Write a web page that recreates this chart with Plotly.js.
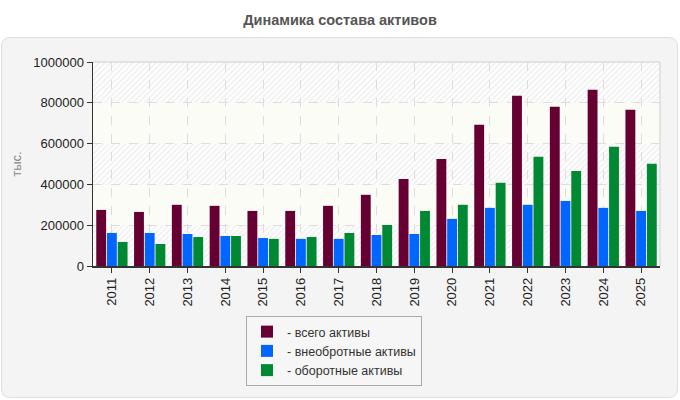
<!DOCTYPE html>
<html>
<head>
<meta charset="utf-8">
<script src="https://cdn.plot.ly/plotly-3.0.1.min.js"></script>
<style>
  html, body { margin: 0; padding: 0; background: #ffffff; }
  #chart { width: 680px; height: 400px; }
</style>
</head>
<body>
<div id="chart"></div>
<script>
// Годы и значения (тыс.)
const years = ['2011','2012','2013','2014','2015','2016','2017','2018',
               '2019','2020','2021','2022','2023','2024','2025'];
const totalAssets   = [275000, 265000, 300000, 295000, 270000, 270000, 295000, 349000,
                       427000, 525000, 692000, 835000, 781000, 864000, 766000];
const fixedAssets   = [162000, 162000, 157000, 147000, 137000, 133000, 133000, 152000,
                       157000, 231000, 285000, 300000, 319000, 285000, 270000];
const currentAssets = [118000, 108000, 142000, 147000, 133000, 142000, 162000, 201000,
                       270000, 300000, 408000, 535000, 466000, 584000, 501000];

const seriesNames  = ['- всего активы', '- внеобротные активы', '- оборотные активы'];
const seriesColors = ['#660033', '#0066ff', '#008833'];
const yTicks = [0, 200000, 400000, 600000, 800000, 1000000];

// Geometry of the figure in pixels
const W = 680, H = 400;
const M = { l: 93, r: 20, t: 62, b: 134, autoexpand: false };
const PW = W - M.l - M.r, PH = H - M.t - M.b;
const px = x => (x - M.l) / PW;          // pixel x -> paper x
const py = y => (H - M.b - y) / PH;      // pixel y -> paper y

// Rounded panel behind the plot
function roundedPanel(x0, y0, x1, y1, r) {
  const p = (x, y) => px(x).toFixed(5) + ',' + py(y).toFixed(5);
  return 'M' + p(x0 + r, y0) + ' L' + p(x1 - r, y0) +
         ' Q' + p(x1, y0) + ' ' + p(x1, y0 + r) +
         ' L' + p(x1, y1 - r) + ' Q' + p(x1, y1) + ' ' + p(x1 - r, y1) +
         ' L' + p(x0 + r, y1) + ' Q' + p(x0, y1) + ' ' + p(x0, y1 - r) +
         ' L' + p(x0, y0 + r) + ' Q' + p(x0, y0) + ' ' + p(x0 + r, y0) + ' Z';
}

// Plot-area background: alternating hatched and ivory bands between y gridlines
function bandBackground() {
  const yMax = yTicks[yTicks.length - 1];
  let rects = '';
  for (let i = 0; i < yTicks.length - 1; i++) {
    const top = PH * (1 - yTicks[i + 1] / yMax);
    const h = PH * (yTicks[i + 1] - yTicks[i]) / yMax;
    const fill = (i % 2 === 0) ? 'url(#h)' : '#fcfcf6';
    rects += `<rect x="0" y="${top}" width="${PW}" height="${h}" fill="${fill}"/>`;
  }
  const svg = `<svg xmlns="http://www.w3.org/2000/svg" width="${PW}" height="${PH}" viewBox="0 0 ${PW} ${PH}" preserveAspectRatio="none">` +
    `<defs><pattern id="h" width="4" height="4" patternUnits="userSpaceOnUse" patternTransform="rotate(45)">` +
    `<rect width="4" height="4" fill="#ffffff"/>` +
    `<line x1="1" y1="0" x2="1" y2="4" stroke="#eeeeee" stroke-width="1.5"/></pattern></defs>` +
    rects + `</svg>`;
  return 'data:image/svg+xml;charset=utf-8,' + encodeURIComponent(svg);
}

const dataSets = [totalAssets, fixedAssets, currentAssets];
const traces = dataSets.map((vals, i) => ({
  type: 'bar',
  name: seriesNames[i],
  x: years,
  y: vals,
  marker: { color: seriesColors[i], line: { width: 0 } },
  hoverinfo: 'x+y+name'
}));

const FONT = 'Liberation Sans, Arial, sans-serif';

const layout = {
  width: W,
  height: H,
  margin: M,
  paper_bgcolor: '#ffffff',
  plot_bgcolor: '#ffffff',
  font: { family: FONT, size: 13, color: '#222222' },
  title: {
    text: 'Динамика состава активов',
    font: { family: FONT, size: 14.5, color: '#555555', weight: 'bold' },
    x: 0.5, xref: 'container', xanchor: 'center',
    y: 1 - 20 / H, yref: 'container', yanchor: 'middle'
  },
  barmode: 'group',
  bargap: 0.15,
  bargroupgap: 0.08,
  showlegend: true,
  legend: {
    x: px(246), y: py(316), xanchor: 'left', yanchor: 'top',
    orientation: 'v',
    bgcolor: '#f6f6f6',
    bordercolor: '#aaaaaa',
    borderwidth: 1,
    font: { family: FONT, size: 12.5, color: '#333333' },
    tracegroupgap: 0,
    itemclick: false, itemdoubleclick: false
  },
  xaxis: {
    type: 'category',
    range: [-0.5, years.length - 0.5],
    tickangle: -90,
    ticks: 'outside', ticklen: 5, tickcolor: '#333333',
    showline: true, linecolor: '#333333', linewidth: 1.5,
    showgrid: true, gridcolor: '#dddddd', griddash: 'dash', gridwidth: 1,
    tickfont: { family: FONT, size: 13, color: '#222222' },
    fixedrange: true
  },
  yaxis: {
    range: [0, 1000000],
    tickvals: yTicks,
    ticktext: yTicks.map(v => String(v)),
    ticks: 'outside', ticklen: 5, tickcolor: '#333333',
    showline: true, linecolor: '#333333', linewidth: 1.5,
    showgrid: true, gridcolor: '#dddddd', griddash: 'dash', gridwidth: 1,
    zeroline: false,
    tickfont: { family: FONT, size: 13, color: '#222222' },
    title: { text: 'тыс.', font: { family: FONT, size: 13, color: '#888888' }, standoff: 8 },
    automargin: false,
    fixedrange: true
  },
  images: [{
    source: bandBackground(),
    xref: 'x domain', yref: 'y domain',
    x: 0, y: 1, sizex: 1, sizey: 1,
    xanchor: 'left', yanchor: 'top',
    sizing: 'stretch', layer: 'below'
  }],
  shapes: [
    {
      type: 'path', xref: 'paper', yref: 'paper', layer: 'below',
      path: roundedPanel(1.5, 37.5, 677.5, 397.5, 9),
      fillcolor: '#f4f4f4', line: { color: '#dedede', width: 1 }
    },
    // light border on the top and right of the plot area
    { type: 'line', xref: 'paper', yref: 'paper', layer: 'above',
      x0: 0, x1: 1, y0: 1, y1: 1, line: { color: '#dddddd', width: 1.5 } },
    { type: 'line', xref: 'paper', yref: 'paper', layer: 'above',
      x0: 1, x1: 1, y0: 0, y1: 1, line: { color: '#dddddd', width: 1.5 } }
  ]
};

Plotly.newPlot('chart', traces, layout, { displayModeBar: false, staticPlot: true });
</script>
</body>
</html>
